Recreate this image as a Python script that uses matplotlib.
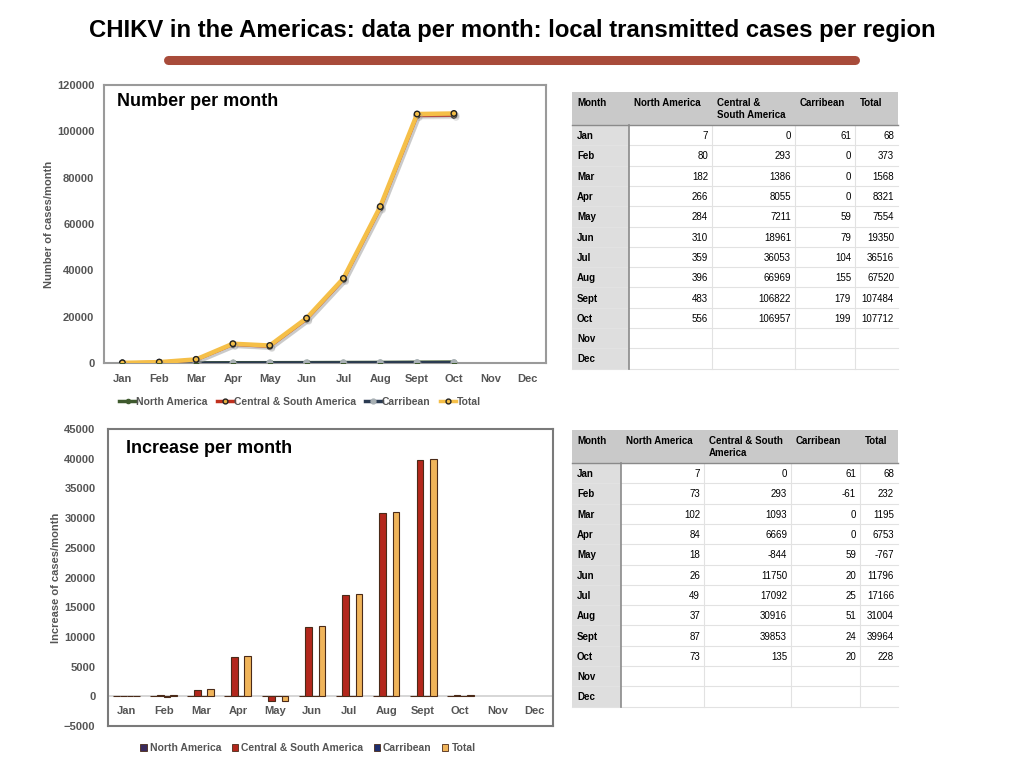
import numpy as np
import matplotlib
matplotlib.use("Agg")
import matplotlib.pyplot as plt
import matplotlib.patheffects as pe
from matplotlib.patches import Rectangle, Patch
from matplotlib.lines import Line2D

plt.rcParams['font.family'] = ['Liberation Sans', 'DejaVu Sans']

# ---- data -------------------------------------------------------------
months = ['Jan', 'Feb', 'Mar', 'Apr', 'May', 'Jun', 'Jul', 'Aug', 'Sept', 'Oct', 'Nov', 'Dec']
series_names = ['North America', 'Central & South America', 'Carribean', 'Total']

# cumulative numbers per month (Nov / Dec not yet reported)
num_north = [7, 80, 182, 266, 284, 310, 359, 396, 483, 556, None, None]
num_central = [0, 293, 1386, 8055, 7211, 18961, 36053, 66969, 106822, 106957, None, None]
num_carib = [61, 0, 0, 0, 59, 79, 104, 155, 179, 199, None, None]
num_total = [68, 373, 1568, 8321, 7554, 19350, 36516, 67520, 107484, 107712, None, None]

# increase per month
inc_north = [7, 73, 102, 84, 18, 26, 49, 37, 87, 73, None, None]
inc_central = [0, 293, 1093, 6669, -844, 11750, 17092, 30916, 39853, 135, None, None]
inc_carib = [61, -61, 0, 0, 59, 20, 25, 51, 24, 20, None, None]
inc_total = [68, 232, 1195, 6753, -767, 11796, 17166, 31004, 39964, 228, None, None]

TICK_GREY = '#555555'


def to_arr(vals):
    return np.array([np.nan if v is None else v for v in vals], dtype=float)


fig = plt.figure(figsize=(10.24, 7.68), dpi=100)
fig.patch.set_facecolor('white')

# ---- top: line chart --------------------------------------------------
ax1 = fig.add_axes([104 / 1024, 1 - 363 / 768, 442 / 1024, 278 / 768])
x = np.arange(len(months))
shadow = [pe.SimpleLineShadow(offset=(1.5, -1.5), shadow_color='#999999', alpha=0.3), pe.Normal()]

ax1.plot(x, to_arr(num_north), color='#3F5A2E', lw=2, marker='o', ms=3,
         mfc='#3F5A2E', mec='#3F5A2E', zorder=3)
ax1.plot(x, to_arr(num_carib), color='#2B3B52', lw=2.2, marker='o', ms=4,
         mfc='#A8B0B4', mec='#A8B0B4', zorder=3, path_effects=shadow)
ax1.plot(x, to_arr(num_central), color='#C0301E', lw=2.5, marker='o', ms=4,
         mfc='#E8B040', mec='#222222', zorder=4, path_effects=shadow)
ax1.plot(x, to_arr(num_total), color='#F5BF48', lw=3.2, marker='o', ms=4,
         mfc='#F5BF48', mec='#222222', mew=1, zorder=5, path_effects=shadow)

ax1.set_xlim(-0.5, 11.5)
ax1.set_ylim(0, 120000)
ax1.set_yticks(np.arange(0, 120001, 20000))
ax1.set_xticks(x)
ax1.set_xticklabels(months)
ax1.tick_params(length=0, labelsize=8, labelcolor=TICK_GREY, pad=8)
ax1.tick_params(axis='y', pad=7)
for lab in ax1.get_xticklabels() + ax1.get_yticklabels():
    lab.set_fontweight('bold')
ax1.set_ylabel('Number of cases/month', fontsize=8, color=TICK_GREY, fontweight='bold', labelpad=2)
for sp in ax1.spines.values():
    sp.set_color('#9A9A9A')
    sp.set_linewidth(1.5)
ax1.text(0.03, 0.94, 'Number per month', transform=ax1.transAxes, fontsize=13,
         fontweight='bold', ha='left', va='center')

top_handles = [
    Line2D([], [], color='#3F5A2E', lw=2.5, marker='o', ms=3, mfc='#3F5A2E', mec='#3F5A2E'),
    Line2D([], [], color='#C0301E', lw=2.5, marker='o', ms=3.5, mfc='#E8B040', mec='#222222'),
    Line2D([], [], color='#2B3B52', lw=2.5, marker='o', ms=3.5, mfc='#A8B0B4', mec='#A8B0B4'),
    Line2D([], [], color='#F5BF48', lw=2.5, marker='o', ms=3.5, mfc='#F5BF48', mec='#222222'),
]
leg1 = fig.legend(top_handles, series_names, loc='center', ncol=4, frameon=False,
                  bbox_to_anchor=(300 / 1024, 1 - 402 / 768), fontsize=7.5,
                  handlelength=1.6, handletextpad=0.0, columnspacing=0.9)
for t in leg1.get_texts():
    t.set_color(TICK_GREY)
    t.set_fontweight('bold')

# ---- bottom: bar chart ------------------------------------------------
ax2 = fig.add_axes([108 / 1024, 1 - 726 / 768, 445 / 1024, 297 / 768])
bar_colors = ['#3A2A5C', '#B3271C', '#1E2E6E', '#F0B45A']
bar_w = 0.18
inc_series = [inc_north, inc_central, inc_carib, inc_total]
for k, vals in enumerate(inc_series):
    ax2.bar(x + (k - 1.5) * bar_w, to_arr(vals), width=bar_w, color=bar_colors[k],
            edgecolor='#4A2A18', linewidth=0.8, zorder=3)

ax2.axhline(0, color='#D0D0D0', lw=1.2, zorder=2)
ax2.set_xlim(-0.5, 11.5)
ax2.set_ylim(-5000, 45000)
ax2.set_yticks(np.arange(-5000, 45001, 5000))
ax2.set_xticks([])
for i, m in enumerate(months):
    ax2.text(i, -2400, m, ha='center', va='center', fontsize=8, color=TICK_GREY, fontweight='bold')
ax2.tick_params(length=0, labelsize=8, labelcolor=TICK_GREY, pad=9)
for lab in ax2.get_yticklabels():
    lab.set_fontweight('bold')
ax2.set_ylabel('Increase of cases/month', fontsize=8, color=TICK_GREY, fontweight='bold', labelpad=2)
for sp in ax2.spines.values():
    sp.set_color('#7A7A7A')
    sp.set_linewidth(1.5)
ax2.text(0.04, 0.935, 'Increase per month', transform=ax2.transAxes, fontsize=13,
         fontweight='bold', ha='left', va='center')

bot_handles = [Patch(facecolor=c, edgecolor='#4A2A18', linewidth=0.6) for c in bar_colors]
leg2 = fig.legend(bot_handles, series_names, loc='center', ncol=4, frameon=False,
                  bbox_to_anchor=(308 / 1024, 1 - 748 / 768), fontsize=7.5,
                  handlelength=0.6, handleheight=0.6, handletextpad=0.3, columnspacing=1.0)
for t in leg2.get_texts():
    t.set_color(TICK_GREY)
    t.set_fontweight('bold')

# ---- overlay: title, rule and tables (pixel coordinates) -------------
ov = fig.add_axes([0, 0, 1, 1], zorder=-1)
ov.set_xlim(0, 1024)
ov.set_ylim(768, 0)
ov.axis('off')

ov.text(512, 31, 'CHIKV in the Americas: data per month: local transmitted cases per region',
        ha='center', va='center', fontsize=17.2, fontweight='bold')
ov.plot([168, 855], [60, 60], color='#A84B3A', lw=6.5, solid_capstyle='round')


def fmt(v):
    return '' if v is None else str(v)


def draw_table(top, col_edges, headers, cols):
    left, right = col_edges[0], col_edges[-1]
    head_h = 33
    row_h = 20.3
    ov.add_patch(Rectangle((left, top), right - left, head_h, facecolor='#C9C9C9', edgecolor='none'))
    n_rows = len(months)
    body_top = top + head_h
    ov.add_patch(Rectangle((left, body_top), col_edges[1] - left, n_rows * row_h,
                           facecolor='#DEDEDE', edgecolor='none'))
    for r in range(n_rows + 1):
        y = body_top + r * row_h
        ov.plot([left, right], [y, y], color='#E2E2E2', lw=0.8)
    for c in col_edges[2:-1]:
        ov.plot([c, c], [body_top, body_top + n_rows * row_h], color='#E2E2E2', lw=0.8)
    ov.plot([col_edges[1], col_edges[1]], [body_top, body_top + n_rows * row_h], color='#8A8A8A', lw=1.2)
    ov.plot([left, right], [body_top, body_top], color='#8A8A8A', lw=1.0)
    for j, h in enumerate(headers):
        ov.text(col_edges[j] + 5, top + 6, h, ha='left', va='top', fontsize=7,
                fontweight='bold', linespacing=1.2)
    for r, m in enumerate(months):
        yc = body_top + (r + 0.55) * row_h
        ov.text(left + 5, yc, m, ha='left', va='center', fontsize=7, fontweight='bold')
        for j, vals in enumerate(cols):
            ov.text(col_edges[j + 2] - 4, yc, fmt(vals[r]), ha='right', va='center', fontsize=7)


draw_table(92, [572, 629, 712, 795, 855, 898],
           ['Month', 'North America', 'Central &\nSouth America', 'Carribean', 'Total'],
           [num_north, num_central, num_carib, num_total])
draw_table(430, [572, 621, 704, 791, 860, 898],
           ['Month', 'North America', 'Central & South\nAmerica', 'Carribean', 'Total'],
           [inc_north, inc_central, inc_carib, inc_total])

fig.savefig('out.png', dpi=100)
